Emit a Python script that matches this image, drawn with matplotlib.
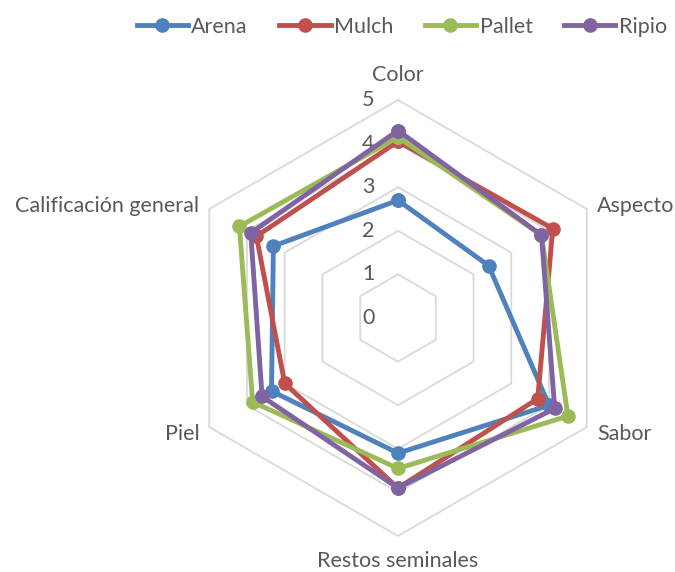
import numpy as np
import matplotlib
matplotlib.use("Agg")
import matplotlib.pyplot as plt
from matplotlib.lines import Line2D

plt.rcParams['font.family'] = ['Lato', 'DejaVu Sans']

categories = ["Color", "Aspecto", "Sabor", "Restos seminales", "Piel", "Calificación general"]
series_names = ["Arena", "Mulch", "Pallet", "Ripio"]
arena = [2.7, 2.4, 4.0, 3.1, 3.35, 3.3]
mulch = [4.05, 4.1, 3.7, 3.9, 3.0, 3.75]
pallet = [4.15, 3.8, 4.5, 3.45, 3.85, 4.2]
ripio = [4.3, 3.8, 4.15, 3.9, 3.6, 3.9]
ring_values = [0, 1, 2, 3, 4, 5]

colors = ["#4F81BD", "#C0504D", "#9BBB59", "#8064A2"]
text_color = "#595959"
grid_color = "#D9D9D9"

W, H, DPI = 675, 572, 100
cx_px, cy_px, unit_px = 398, 318, 43.6

fig = plt.figure(figsize=(W / DPI, H / DPI), dpi=DPI)
ax = fig.add_axes([0, 0, 1, 1])
ax.set_xlim(-cx_px / unit_px, (W - cx_px) / unit_px)
ax.set_ylim(-(H - cy_px) / unit_px, cy_px / unit_px)
ax.axis("off")

n = len(categories)
angles = np.pi / 2 - 2 * np.pi * np.arange(n) / n


def to_xy(vals):
    vals = np.asarray(vals, dtype=float)
    return vals * np.cos(angles), vals * np.sin(angles)


# hexagonal grid rings
rmax = max(ring_values)
for r in ring_values[1:]:
    gx, gy = to_xy([r] * n)
    ax.plot(np.append(gx, gx[0]), np.append(gy, gy[0]), color=grid_color,
            lw=1.3, zorder=1)

# radial tick labels along the top axis
for r in ring_values:
    ax.text(-0.68, r, str(r), ha="center", va="center", fontsize=15.5,
            color=text_color, zorder=2)

# category labels
lx, ly = to_xy([rmax] * n)
offsets = [(0, 0.58, "center", "center"),
           (0.23, 0.07, "left", "center"),
           (0.23, -0.15, "left", "center"),
           (0, -0.57, "center", "center"),
           (-0.23, -0.15, "right", "center"),
           (-0.23, 0.07, "right", "center")]
for (dx, dy, ha, va), x, y, lab in zip(offsets, lx, ly, categories):
    ax.text(x + dx, y + dy, lab, ha=ha, va=va, fontsize=15.5, color=text_color)

# data series
all_series = [arena, mulch, pallet, ripio]
for vals, name, c in zip(all_series, series_names, colors):
    x, y = to_xy(vals)
    ax.plot(np.append(x, x[0]), np.append(y, y[0]), color=c, lw=3.5,
            marker="o", markersize=9.5, solid_joinstyle="round", zorder=3,
            label=name)

handles = [Line2D([0], [0], color=c, lw=3.5, marker="o", markersize=9.5)
           for c in colors]
fig.legend(handles, series_names, loc="upper center", ncol=4,
           bbox_to_anchor=(0.595, 1.005), frameon=False, fontsize=15.5,
           handlelength=2.4, handletextpad=0.15, columnspacing=1.45,
           labelcolor=text_color)

fig.savefig("out.png", dpi=DPI)
